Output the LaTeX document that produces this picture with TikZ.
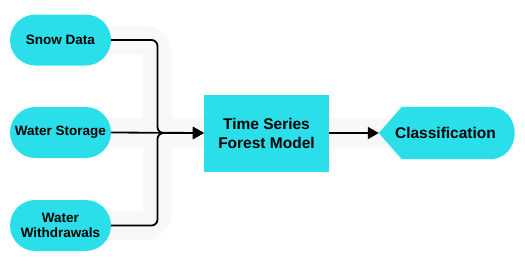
\documentclass[tikz,border=0pt]{standalone}
\usepackage{fontspec}
\setmainfont{Liberation Sans}
\usetikzlibrary{arrows.meta,calc}
\definecolor{nodecyan}{RGB}{42,223,234}
\definecolor{halo}{RGB}{248,248,248}
\begin{document}
\begin{tikzpicture}[x=1pt,y=-1pt,
  source/.style={fill=nodecyan,rounded corners=25.5pt,minimum width=101pt,minimum height=51pt,
    inner sep=0pt,align=center,font=\bfseries\fontsize{13.5}{15}\selectfont},
  model/.style={fill=nodecyan,minimum width=125pt,minimum height=77pt,inner sep=0pt,
    align=center,font=\bfseries\fontsize{15.5}{19}\selectfont},
  display/.style={minimum width=135pt,minimum height=52pt,inner sep=0pt,
    font=\bfseries\fontsize{15.5}{19}\selectfont},
  conn/.style={line width=1.8pt,rounded corners=6pt,-{Triangle[length=11pt,width=12pt]}},
  glow/.style={draw=halo,line width=29pt,rounded corners=14pt}]
\useasboundingbox (0,0) rectangle (525,269);

% positions of the nodes and the point where the inputs merge
\coordinate (psnow) at (60.5,40);
\coordinate (pstorage) at (60.5,132.5);
\coordinate (pwithdraw) at (60.5,225.5);
\coordinate (ptsf) at (266.5,133);
\coordinate (join) at (157.5,133);

% soft bands behind the connectors
\draw[glow] (psnow) -| (join) |- (pwithdraw);
\draw[glow] (pstorage) -- (ptsf) -- (446,133);

% nodes
\node[source] (snow) at (psnow) {Snow Data};
\node[source] (storage) at (pstorage) {Water Storage};
\node[source] (withdraw) at (pwithdraw) {Water\\Withdrawals};
\node[model] (tsf) at (ptsf) {Time Series\\Forest Model};
\node[display] (cls) at (446.5,133) {};

% display shape for the output
\fill[nodecyan] (cls.west) -- ($(cls.north west)+(23,0)$) -- ($(cls.north east)+(-25,0)$)
  .. controls ($(cls.north east)+(9,0)$) and ($(cls.south east)+(9,0)$) .. ($(cls.south east)+(-25,0)$)
  -- ($(cls.south west)+(23,0)$) -- cycle;
\node[font=\bfseries\fontsize{15.5}{19}\selectfont] at ($(cls.center)+(-1,0)$) {Classification};

% connectors
\draw[conn] (snow.east) -| (join) -- (tsf.west);
\draw[conn] (withdraw.east) -| (join) -- (tsf.west);
\draw[conn] (storage.east) -- (tsf.west);
\draw[conn] (tsf.east) -- (cls.west);
\end{tikzpicture}
\end{document}
